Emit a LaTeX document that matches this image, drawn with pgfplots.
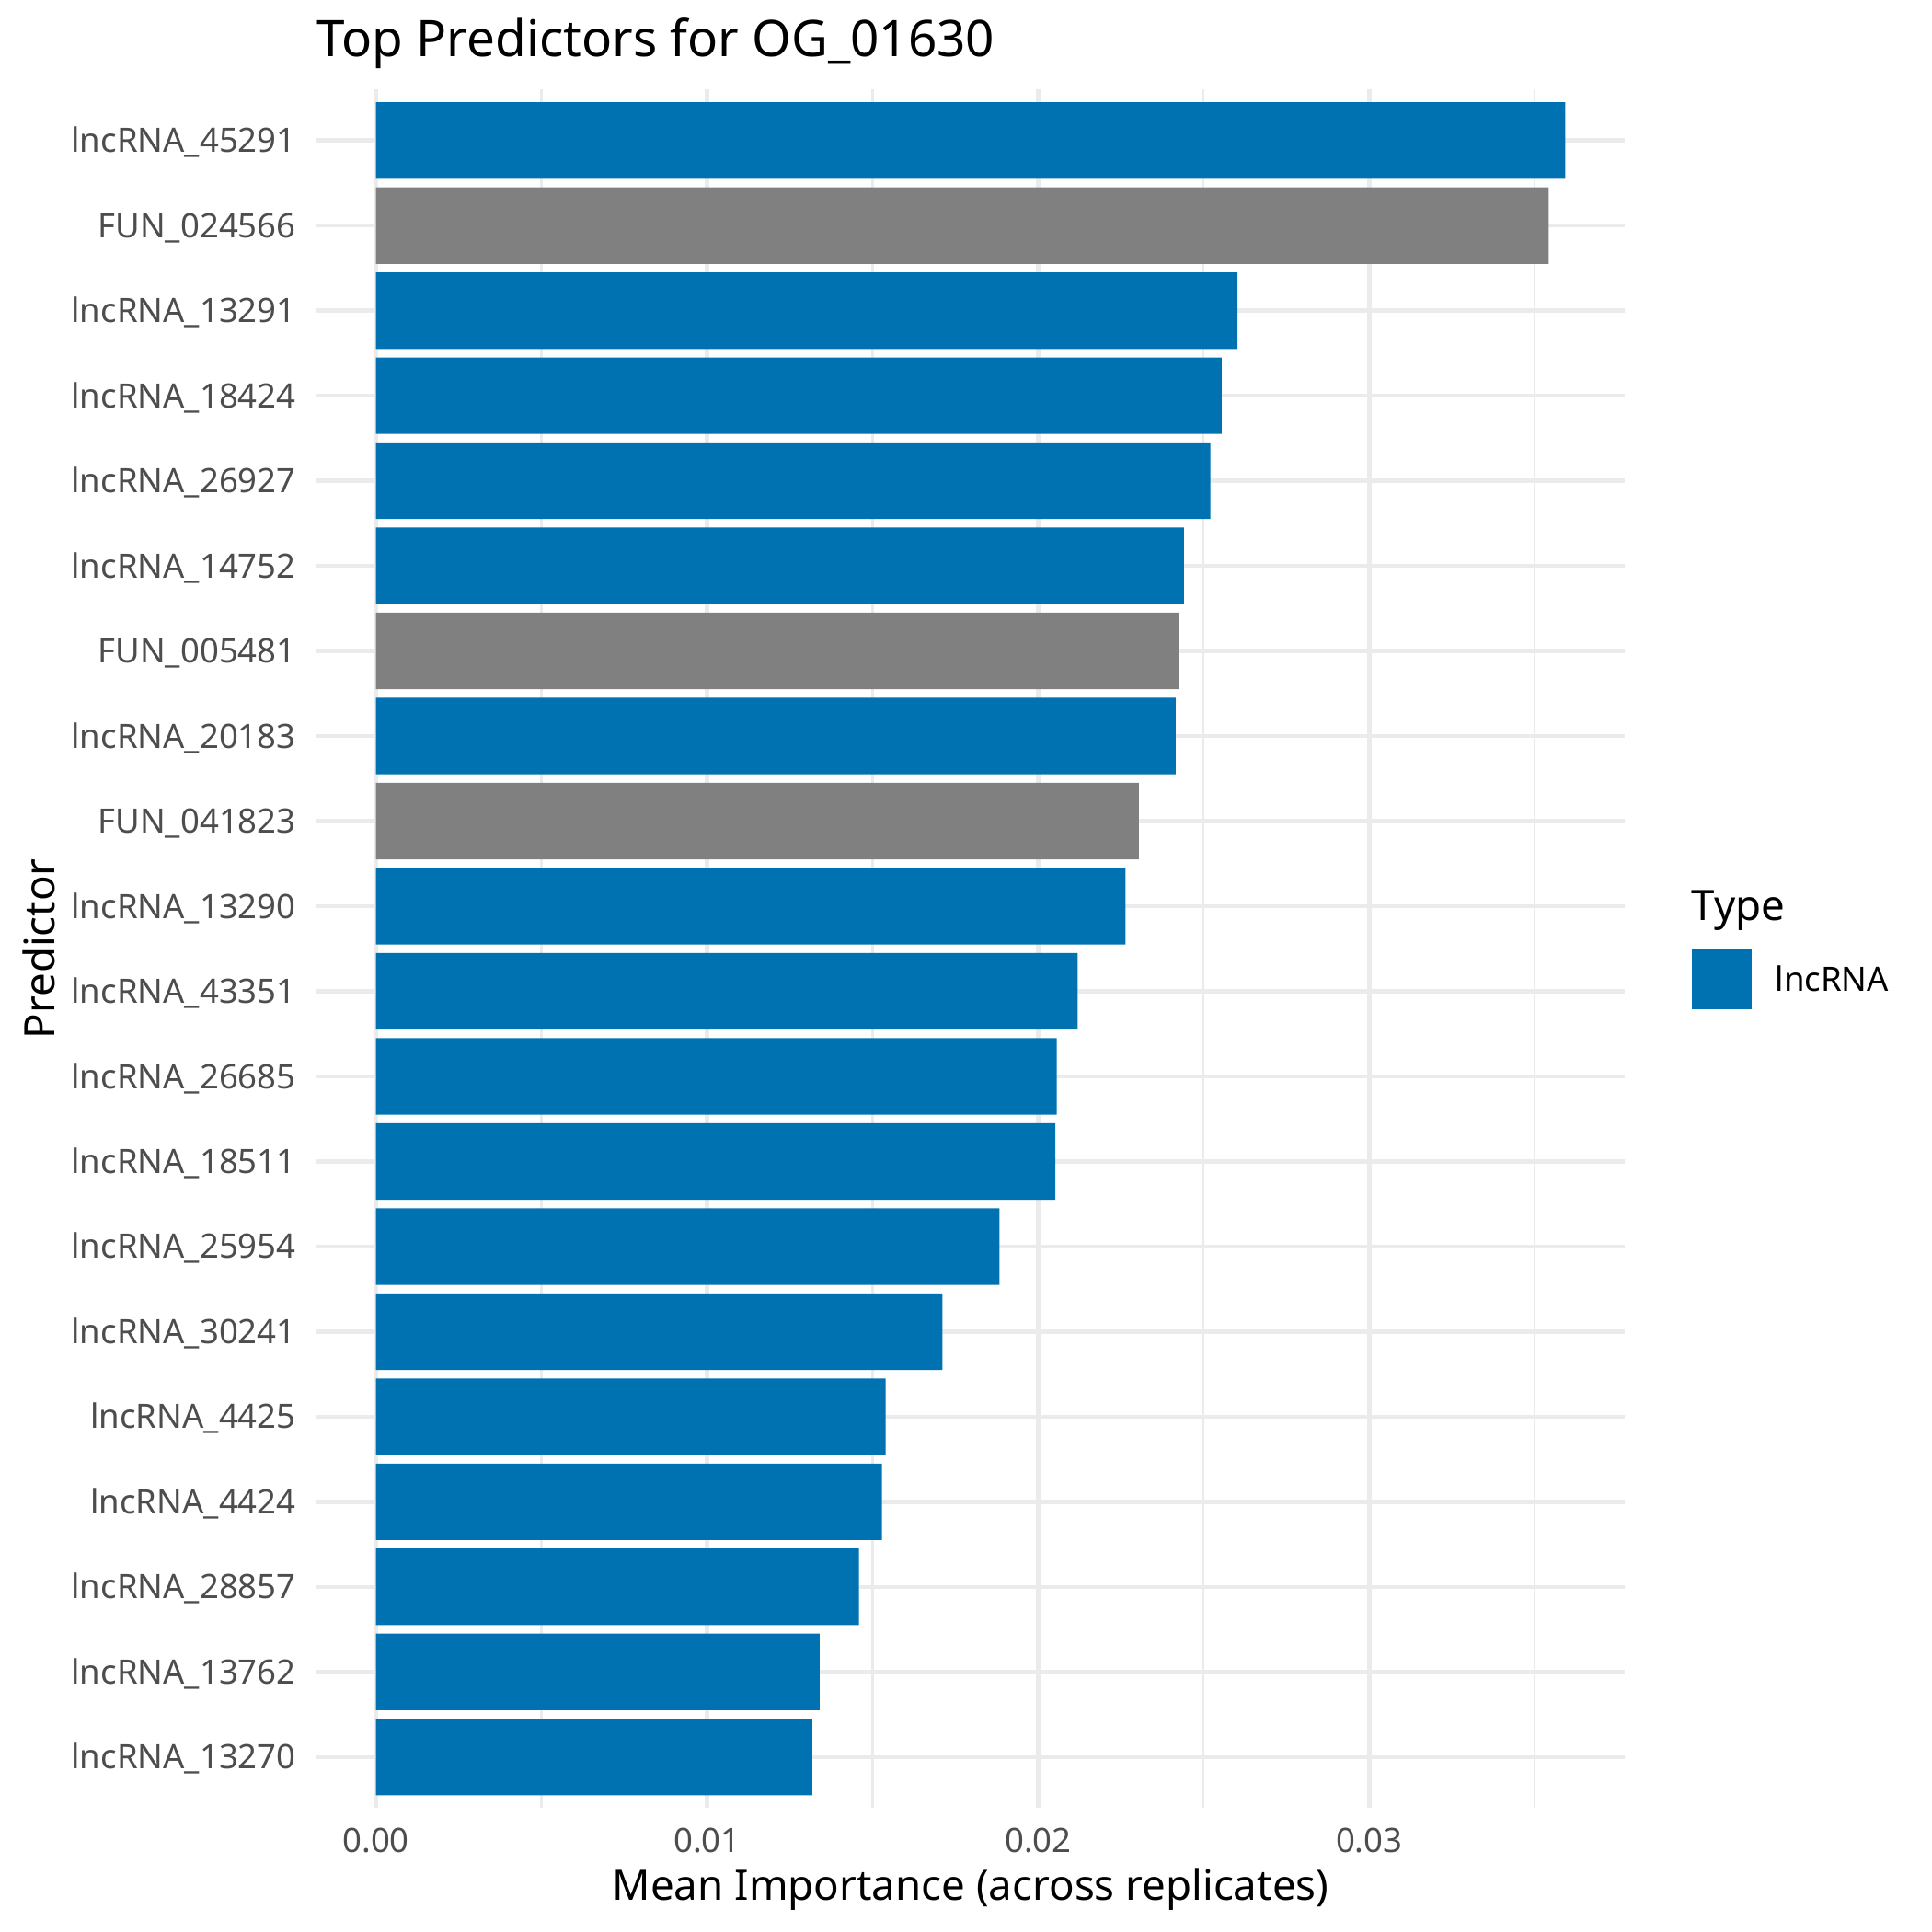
\documentclass[border=0pt]{standalone}
\usepackage{fontspec}
\setmainfont{Noto Sans}
\usepackage{pgfplots}
\pgfplotsset{compat=1.18}
\definecolor{lnc}{HTML}{0072B2}
\definecolor{fun}{HTML}{808080}
\definecolor{gridc}{HTML}{EBEBEB}
\definecolor{tickc}{HTML}{4D4D4D}
\begin{document}
\begin{tikzpicture}
\path[use as bounding box] (0,0) rectangle (505.89pt,505.89pt);
\begin{axis}[
  at={(82.87pt,32.45pt)}, anchor=south west,
  scale only axis, width=342.56pt, height=450.02pt,
  xmin=-0.001796, xmax=0.037716, ymin=0.4, ymax=20.6,
  xtick={0,0.01,0.02,0.03}, xticklabels={0.00,0.01,0.02,0.03},
  minor xtick={0.005,0.015,0.025,0.035},
  scaled x ticks=false,
  ytick={1,...,20},
  yticklabels={lncRNA\_13270,lncRNA\_13762,lncRNA\_28857,lncRNA\_4424,lncRNA\_4425,lncRNA\_30241,lncRNA\_25954,lncRNA\_18511,lncRNA\_26685,lncRNA\_43351,lncRNA\_13290,FUN\_041823,lncRNA\_20183,FUN\_005481,lncRNA\_14752,lncRNA\_26927,lncRNA\_18424,lncRNA\_13291,FUN\_024566,lncRNA\_45291},
  /pgf/number format/assume math mode=true,
  major tick length=0pt, minor tick length=0pt,
  axis x line*=bottom, axis y line*=left,
  axis line style={draw=none},
  xmajorgrids, xminorgrids, ymajorgrids,
  major grid style={color=gridc, line width=1.07pt},
  minor grid style={color=gridc, line width=0.53pt},
  yticklabel style={anchor=east, inner sep=0pt, xshift=-5.2pt, text height=6.28pt, text depth=0pt, font=\fontsize{8.8}{10}\selectfont, color=tickc},
  xticklabel style={anchor=north, inner sep=0pt, yshift=-5.23pt, text height=6.28pt, text depth=0pt, font=\fontsize{8.8}{10}\selectfont, color=tickc},
  legend style={draw=none, fill=none, inner sep=0pt, outer sep=0pt,
    at={(axis description cs:1.0512,0.4824)}, anchor=west,
    font=\fontsize{8.8}{10}\selectfont, column sep=6.1pt,
    nodes={inner sep=0pt, text height=6.28pt, text depth=0pt}},
]
\addplot[xbar, bar width=0.9, bar shift=0pt, fill=lnc, draw=none,
  legend image code/.code={\fill[lnc] (0pt,-7.9pt) rectangle (15.8pt,7.9pt);}]
  coordinates {
  (0.01318,1) (0.01340,2) (0.01459,3) (0.01528,4) (0.01539,5)
  (0.01711,6) (0.01883,7) (0.02052,8) (0.02056,9) (0.02119,10)
  (0.02264,11) (0.02415,13) (0.02440,15) (0.02520,16)
  (0.02554,17) (0.02602,18) (0.03592,20)
  };
\addlegendentry{lncRNA}
\addplot[xbar, bar width=0.9, bar shift=0pt, fill=fun, draw=none, forget plot]
  coordinates {
  (0.02304,12) (0.02426,14) (0.03542,19)
  };
\end{axis}
\node[anchor=base west, inner sep=0pt, font=\fontsize{13.2}{15}\selectfont] at (82.9pt,490.95pt) {Top Predictors for OG\_01630};
\node[anchor=base, inner sep=0pt, font=\fontsize{11}{13}\selectfont] at (254.15pt,8.26pt) {Mean Importance (across replicates)};
\node[anchor=base, inner sep=0pt, rotate=90, font=\fontsize{11}{13}\selectfont] at (14.45pt,257.46pt) {Predictor};
\node[anchor=base west, inner sep=0pt, font=\fontsize{11}{13}\selectfont] at (442.7pt,264.75pt) {Type};
\end{tikzpicture}
\end{document}
